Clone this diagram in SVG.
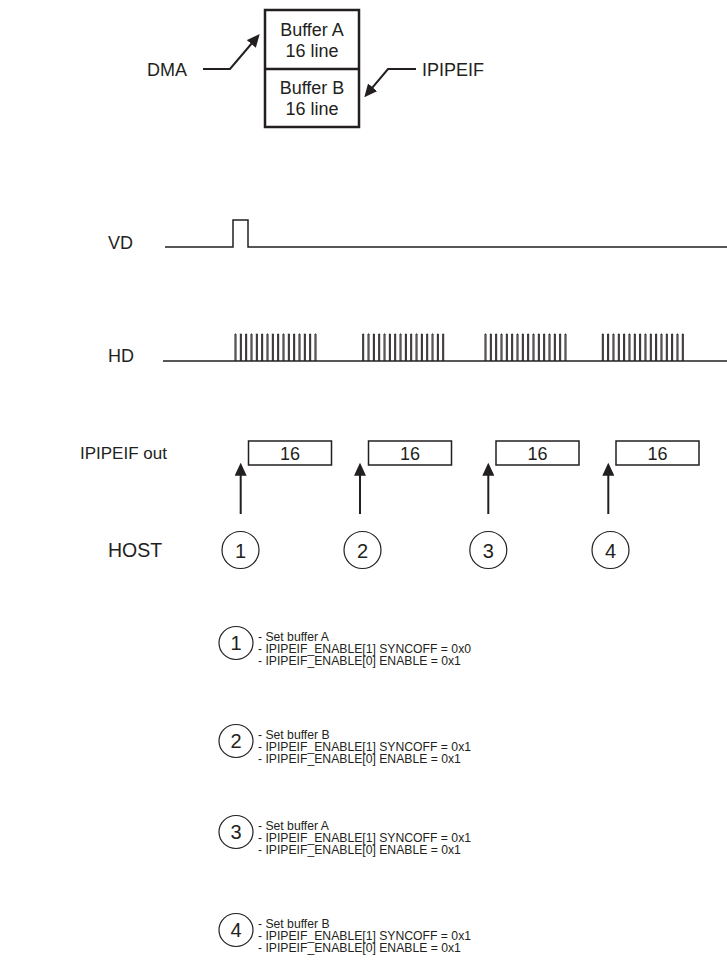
<svg xmlns="http://www.w3.org/2000/svg" xmlns:xlink="http://www.w3.org/1999/xlink" width="727" height="979" viewBox="0 0 727 979">
<style>
text{font-family:"Liberation Sans",Arial,sans-serif;fill:#231f20}
.lbl{font-size:18px}
.buf{font-size:18px;text-anchor:middle}
.num{font-size:18px;text-anchor:middle}
.cd{font-size:20px;text-anchor:middle}
.desc{font-size:12.2px}
.box{fill:#fff;stroke:#231f20;stroke-width:2.5}
.sbox{fill:#fff;stroke:#231f20;stroke-width:1.5}
.wire{fill:none;stroke:#231f20;stroke-width:2}
.sig{fill:none;stroke:#231f20;stroke-width:1.5}
.tick{fill:none;stroke:#231f20;stroke-width:1}
.circ{fill:none;stroke:#231f20;stroke-width:1.2}
</style>
<defs>
<marker id="ah" markerUnits="userSpaceOnUse" markerWidth="13" markerHeight="12" refX="9" refY="6" orient="auto">
<path d="M0,0 L13,6 L0,12 z" fill="#231f20"/>
</marker>
<g id="hdgrp">
<path class="tick" d="M0,361V334H1V361M5.33,361V334H6.33V361M10.67,361V334H11.67V361M16,361V334H17V361M21.33,361V334H22.33V361M26.67,361V334H27.67V361M32,361V334H33V361M37.33,361V334H38.33V361M42.67,361V334H43.67V361M48,361V334H49V361M53.33,361V334H54.33V361M58.67,361V334H59.67V361M64,361V334H65V361M69.33,361V334H70.33V361M74.67,361V334H75.67V361M80,361V334H81V361"/>
</g>
</defs>

<g id="buffer">
<rect class="box" x="265" y="10" width="94" height="117"/>
<line class="box" x1="265" y1="69" x2="359" y2="69"/>
<text class="buf" x="312" y="36">Buffer A</text>
<text class="buf" x="312" y="57">16 line</text>
<text class="buf" x="312" y="94">Buffer B</text>
<text class="buf" x="312" y="115">16 line</text>
</g>
<g id="dma"><text class="lbl" x="147" y="75.5">DMA</text></g>
<g id="ipipeif"><text class="lbl" x="422" y="75.5">IPIPEIF</text></g>

<g id="labels">
<text class="lbl" x="108" y="248.5">VD</text>
<text class="lbl" x="108" y="361.5">HD</text>
<text class="lbl" x="80" y="458.5" style="font-size:17px">IPIPEIF out</text>
<text class="lbl" x="108" y="557" style="font-size:19.5px">HOST</text>
</g>

<g id="vd"><path class="sig" d="M165,247H233V220H248V247H727"/></g>
<g id="hd">
<path class="sig" d="M163,361H727"/>
<use xlink:href="#hdgrp" x="235"/>
<use xlink:href="#hdgrp" x="362.7"/>
<use xlink:href="#hdgrp" x="485"/>
<use xlink:href="#hdgrp" x="602.3"/>
</g>

<g id="out1"><rect class="sbox" x="248.5" y="441" width="83" height="24"/><text class="num" x="290" y="459.5">16</text></g>
<g id="out2"><rect class="sbox" x="368.5" y="441" width="83" height="24"/><text class="num" x="410" y="459.5">16</text></g>
<g id="out3"><rect class="sbox" x="496" y="441" width="83" height="24"/><text class="num" x="537.5" y="459.5">16</text></g>
<g id="out4"><rect class="sbox" x="616" y="441" width="83" height="24"/><text class="num" x="657.5" y="459.5">16</text></g>

<g id="host1"><circle class="circ" cx="240.5" cy="550" r="18.5"/><text class="cd" x="240.5" y="557.5">1</text></g>
<g id="host2"><circle class="circ" cx="362.5" cy="550" r="18.5"/><text class="cd" x="362.5" y="557.5">2</text></g>
<g id="host3"><circle class="circ" cx="488.3" cy="550" r="18.5"/><text class="cd" x="488.3" y="557.5">3</text></g>
<g id="host4"><circle class="circ" cx="610.5" cy="550" r="18.5"/><text class="cd" x="610.5" y="557.5">4</text></g>

<g id="connectors">
<path class="wire" d="M203,69H230L257.1,37.1" marker-end="url(#ah)"/>
<path class="wire" d="M416,69H388L366.9,94.2" marker-end="url(#ah)"/>
<path class="wire" d="M240.7,514V466.7" marker-end="url(#ah)"/>
<path class="wire" d="M360,514V466.7" marker-end="url(#ah)"/>
<path class="wire" d="M488.3,514V466.7" marker-end="url(#ah)"/>
<path class="wire" d="M608.3,514V466.7" marker-end="url(#ah)"/>
</g>

<g id="step1">
<ellipse class="circ" cx="236" cy="643" rx="17" ry="16.5"/><text class="cd" x="236" y="650">1</text>
<text class="desc" x="258" y="641">- Set buffer A</text>
<text class="desc" x="258" y="653">- IPIPEIF_ENABLE[1] SYNCOFF = 0x0</text>
<text class="desc" x="258" y="665">- IPIPEIF_ENABLE[0] ENABLE = 0x1</text>
</g>
<g id="step2">
<ellipse class="circ" cx="236" cy="741" rx="17" ry="16.5"/><text class="cd" x="236" y="748">2</text>
<text class="desc" x="258" y="739">- Set buffer B</text>
<text class="desc" x="258" y="751">- IPIPEIF_ENABLE[1] SYNCOFF = 0x1</text>
<text class="desc" x="258" y="763">- IPIPEIF_ENABLE[0] ENABLE = 0x1</text>
</g>
<g id="step3">
<ellipse class="circ" cx="236" cy="832" rx="17" ry="16.5"/><text class="cd" x="236" y="839">3</text>
<text class="desc" x="258" y="830">- Set buffer A</text>
<text class="desc" x="258" y="842">- IPIPEIF_ENABLE[1] SYNCOFF = 0x1</text>
<text class="desc" x="258" y="854">- IPIPEIF_ENABLE[0] ENABLE = 0x1</text>
</g>
<g id="step4">
<ellipse class="circ" cx="236" cy="930" rx="17" ry="16.5"/><text class="cd" x="236" y="937">4</text>
<text class="desc" x="258" y="928">- Set buffer B</text>
<text class="desc" x="258" y="940">- IPIPEIF_ENABLE[1] SYNCOFF = 0x1</text>
<text class="desc" x="258" y="952">- IPIPEIF_ENABLE[0] ENABLE = 0x1</text>
</g>
</svg>
